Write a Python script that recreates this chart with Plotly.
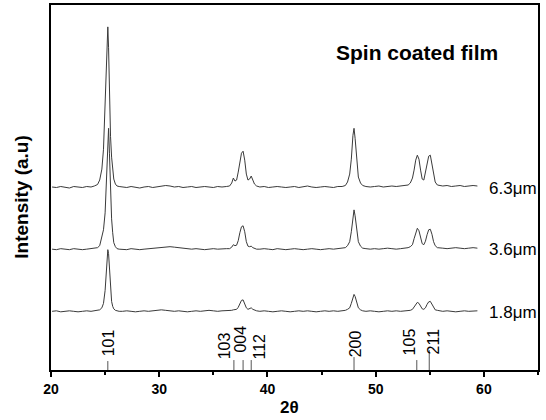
import plotly.graph_objects as go

# 2-theta grid (degrees)
two_theta = [
    20.1, 20.5, 20.9, 21.3, 21.7, 22.1, 22.5, 22.9, 23.3, 23.7, 24.0, 24.3,
    24.5, 24.7, 24.85, 25.0, 25.1, 25.18, 25.25, 25.32, 25.4, 25.5, 25.6, 25.7, 25.8, 25.95, 26.1, 26.3,
    26.6, 27.0, 27.4, 27.8, 28.2, 28.6, 29.0, 29.4, 29.8, 30.2, 30.6, 31.0, 31.4, 31.8, 32.2, 32.6,
    33.0, 33.4, 33.8, 34.2, 34.6, 35.0, 35.4, 35.8, 36.2,
    36.5, 36.7, 36.85, 37.0, 37.15, 37.3, 37.45, 37.6, 37.75, 37.9, 38.05, 38.2, 38.35, 38.5, 38.65, 38.8, 39.0,
    39.3, 39.7, 40.1, 40.5, 40.9, 41.3, 41.7, 42.1, 42.5, 42.9, 43.3, 43.7, 44.1, 44.5, 44.9, 45.3,
    45.7, 46.1, 46.5, 46.9, 47.2,
    47.4, 47.6, 47.75, 47.9, 48.0, 48.1, 48.25, 48.4, 48.6, 48.8,
    49.1, 49.5, 49.9, 50.3, 50.7, 51.1, 51.5, 51.9, 52.3, 52.7, 53.0,
    53.2, 53.4, 53.55, 53.7, 53.85, 54.0, 54.15, 54.3, 54.45, 54.6, 54.75, 54.9, 55.05, 55.2, 55.35,
    55.5, 55.7, 55.9,
    56.2, 56.6, 57.0, 57.4, 57.8, 58.2, 58.6, 59.0, 59.4,
]

# Intensities (a.u., offset stacked)
int_6_3 = [
    184.0, 183.5, 184.5, 184.0, 183.0, 184.5, 184.0, 183.5, 184.5, 184.0, 185.0, 186.5,
    191, 202, 222, 268, 305, 332, 345, 324, 280, 235, 214, 203, 192, 187, 185, 184.5,
    184.0, 183.5, 184.5, 184.0, 183.0, 184.0, 184.5, 183.5, 184.0, 185.0, 185.5, 185.0, 184.0, 184.5,
    183.5, 184.0, 184.5, 183.5, 184.0, 184.5, 184.0, 183.5, 184.5, 184.0, 184.5,
    185, 188, 193, 190, 191, 199, 211, 218, 220, 211, 197, 191, 192, 195, 191, 187, 185,
    184.0, 184.5, 183.5, 184.0, 184.5, 184.0, 183.5, 184.0, 184.5, 183.5, 184.5, 185.0, 184.0, 183.5,
    184.0, 184.5, 184.0, 183.5, 184.5, 184.5, 185.5,
    189, 197, 212, 236, 243, 233, 208, 194, 188, 185.5,
    184.5, 184.0, 184.5, 185.0, 184.0, 184.5, 185.0, 184.5, 185.0, 185.5, 186.0,
    188, 193, 201, 211, 216, 212, 201, 192, 191, 199, 210, 215, 216, 206, 195, 189, 186, 185.5,
    185.0, 185.5, 184.5, 185.0, 185.5, 184.5, 185.0, 185.5, 185.0,
]

int_3_6 = [
    121.5, 121.0, 122.0, 121.5, 121.0, 122.0, 121.5, 121.0, 121.5, 122.0, 122.5, 123.0,
    125, 133, 141, 158, 185, 218, 238, 243, 218, 172, 152, 138, 128, 124, 122, 121.5,
    121.5, 121.0, 122.0, 121.5, 121.0, 121.5, 122.0, 122.5, 123.0, 123.5, 124.0, 124.0, 123.5, 123.0,
    122.5, 122.0, 121.5, 122.0, 121.5, 121.0, 121.5, 122.0, 121.5, 122.0, 122.0,
    122, 123.5, 126, 125, 125.5, 130, 138, 144, 145, 139, 129, 124.5, 124, 124.5, 123, 122, 121.5,
    121.5, 122.0, 121.5, 121.0, 122.0, 121.5, 121.0, 121.5, 122.0, 121.5, 121.0, 121.5, 122.0, 121.5,
    121.0, 121.5, 122.0, 121.5, 122.0, 122.5, 123.0,
    125, 129, 139, 155, 161, 155, 139, 129, 124.5, 122.5,
    122.0, 121.5, 122.0, 121.5, 122.0, 122.5, 122.0, 121.5, 122.0, 122.5, 123.0,
    124, 126, 132, 138.5, 142.5, 140, 133, 127, 126, 129.5, 136, 141, 141.5, 136.5, 129, 125, 123, 122.5,
    122.5, 122.0, 122.5, 123.0, 122.5, 122.0, 122.5, 123.0, 122.5,
]

int_1_8 = [
    59.0, 59.5, 58.5, 59.0, 59.5, 59.0, 58.5, 59.0, 59.5, 59.0, 59.5, 60.0,
    60.5, 62.5, 67, 80, 100, 116, 121, 117, 101, 82, 69, 64, 61.5, 60, 59.5, 59,
    59.0, 59.5, 59.0, 58.5, 59.0, 59.5, 59.0, 59.5, 60.0, 60.5, 60.0, 59.5, 59.0, 59.5,
    59.0, 58.5, 59.0, 59.5, 59.0, 59.5, 60.0, 59.5, 59.0, 59.5, 59.5,
    59.5, 60, 60.5, 60.5, 61, 63, 67, 70, 70.5, 67, 62.5, 61, 62, 62.5, 61, 60, 59.5,
    59.0, 59.5, 59.0, 58.5, 59.0, 59.5, 59.0, 58.5, 59.0, 59.5, 59.0, 59.5, 59.0, 58.5,
    59.0, 59.5, 59.0, 59.5, 59.0, 59.5, 60.0,
    61, 62.5, 67, 74, 76, 74, 67.5, 62.5, 60.5, 59.5,
    59.0, 59.5, 59.0, 58.5, 59.0, 59.5, 59.0, 59.5, 59.0, 59.5, 59.5,
    60, 61, 63.5, 66.5, 68, 67, 64, 61.5, 61, 62.5, 66, 68.5, 69, 66, 62, 60.5, 60, 59.5,
    59.0, 59.5, 59.0, 58.5, 59.0, 59.5, 59.0, 59.5, 59.5,
]

series_names = ["6.3\u03bcm", "3.6\u03bcm", "1.8\u03bcm"]
series_values = [int_6_3, int_3_6, int_1_8]

# Reference peak positions (anatase) and their stick heights
peak_hkl = ["101", "103", "004", "112", "200", "105", "211"]
peak_pos = [25.25, 36.9, 37.75, 38.5, 48.0, 53.8, 54.95]
peak_stick = [9, 10, 10, 10, 13, 10, 20]

x_ticks = [20, 30, 40, 50, 60]

assert len(two_theta) == len(int_6_3) == len(int_3_6) == len(int_1_8)

# layout-only helpers
label_x = [25.33, 36.0, 37.55, 39.26, 48.15, 53.15, 55.37]
label_y = [27.5, 24, 31.5, 24, 26.5, 28.5, 28.5]
name_y = [183, 121, 58]

FONT = "Liberation Sans, Arial"

fig = go.Figure()
for name, vals in zip(series_names, series_values):
    fig.add_trace(go.Scatter(x=two_theta, y=vals, mode="lines", name=name,
                             line=dict(color="#3a3a3a", width=1), showlegend=False))

for p, h in zip(peak_pos, peak_stick):
    fig.add_trace(go.Scatter(x=[p, p], y=[0, h], mode="lines",
                             line=dict(color="#555555", width=1), showlegend=False))

ann = []
for lab, lx, ly in zip(peak_hkl, label_x, label_y):
    ann.append(dict(x=lx, y=ly, xref="x", yref="y", text=lab, showarrow=False,
                    textangle=-90, xanchor="center", yanchor="middle",
                    font=dict(size=16, color="black", family=FONT)))
for name, ny in zip(series_names, name_y):
    ann.append(dict(x=60.3, y=ny, xref="x", yref="y", text=name, showarrow=False,
                    xanchor="left", yanchor="middle",
                    font=dict(size=17, color="black", family=FONT)))
ann.append(dict(x=53.84, y=319, xref="x", yref="y", text="<b>Spin coated film</b>",
                showarrow=False, xanchor="center", yanchor="middle",
                font=dict(size=21, color="black", family=FONT)))
ann.append(dict(x=-0.06, y=174, xref="paper", yref="y", text="<b>Intensity (a.u)</b>",
                showarrow=False, textangle=-90, xanchor="center", yanchor="middle",
                font=dict(size=19, color="black", family=FONT)))
ann.append(dict(x=42.04, y=-0.104, xref="x", yref="paper", text="<b>2\u03b8</b>",
                showarrow=False, xanchor="center", yanchor="middle",
                font=dict(size=17, color="black", family=FONT)))

fig.update_layout(
    width=546, height=420,
    margin=dict(l=51, r=8, t=3, b=50),
    paper_bgcolor="white", plot_bgcolor="white",
    annotations=ann,
    xaxis=dict(range=[20, 65], tickvals=x_ticks, ticktext=[str(t) for t in x_ticks],
               ticks="outside", ticklen=5, tickwidth=1.5, tickcolor="black",
               minor=dict(tickvals=[25, 35, 45, 55, 65], ticks="outside", ticklen=3, tickcolor="black"),
               showline=True, linecolor="black", linewidth=1.5, mirror=True,
               showgrid=False, zeroline=False,
               tickfont=dict(size=14, color="black", family=FONT, weight="bold")),
    yaxis=dict(range=[0, 367], showticklabels=False, ticks="",
               showline=True, linecolor="black", linewidth=1.5, mirror=True,
               showgrid=False, zeroline=False),
)

fig.write_html("out.html", config={"displayModeBar": False},
               post_script="document.body.style.margin='0';document.body.style.overflow='hidden';")
